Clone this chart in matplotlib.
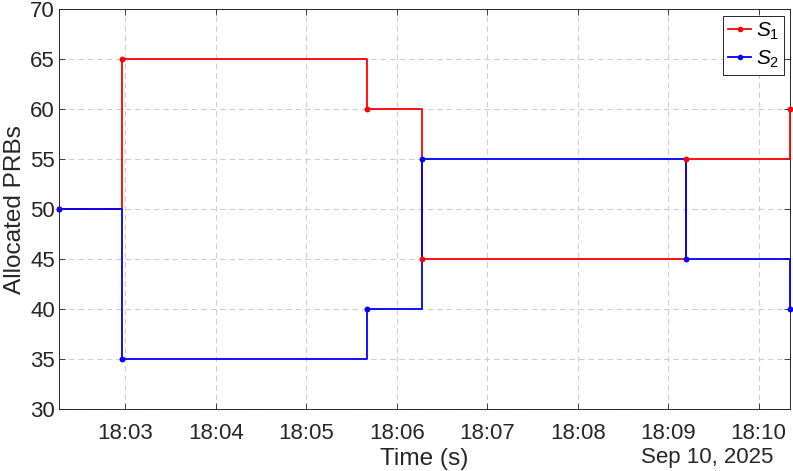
import matplotlib
matplotlib.use("Agg")
import matplotlib.pyplot as plt
import matplotlib.dates as mdates
import pandas as pd

plt.rcParams['font.family'] = ['Liberation Sans', 'DejaVu Sans']
plt.rcParams['mathtext.fontset'] = 'custom'
plt.rcParams['mathtext.it'] = 'Liberation Sans:italic'
plt.rcParams['mathtext.rm'] = 'Liberation Sans'

times = ["2025-09-10 18:02:16", "2025-09-10 18:02:58", "2025-09-10 18:05:40",
         "2025-09-10 18:06:17", "2025-09-10 18:09:12", "2025-09-10 18:10:21"]
s1_prbs = [50, 65, 60, 45, 55, 60]
s2_prbs = [50, 35, 40, 55, 45, 40]
series_labels = [r'$\mathit{S}_{\mathit{1}}$', r'$\mathit{S}_{\mathit{2}}$']
y_ticks = [30, 35, 40, 45, 50, 55, 60, 65, 70]

t = pd.to_datetime(times).to_pydatetime()

fig = plt.figure(figsize=(7.93, 4.71), dpi=100)
ax = fig.add_axes([59/793, 62/471, (790.3-59)/793, (409-9.3)/471])

l1, = ax.plot(t, s1_prbs, color='#ff0000', lw=1.3, drawstyle='steps-post',
              marker='.', markersize=6, zorder=3, label=series_labels[0], clip_on=False)
l2, = ax.plot(t, s2_prbs, color='#0000ff', lw=1.3, drawstyle='steps-post',
              marker='.', markersize=6, zorder=4, label=series_labels[1], clip_on=False)
ax.plot(t, s1_prbs, ls='none', marker='.', markersize=6, color='#ff0000', zorder=5, clip_on=False)
ax.plot(t, s2_prbs, ls='none', marker='.', markersize=6, color='#0000ff', zorder=6, clip_on=False)

ax.set_xlim(t[0], t[-1])
ax.set_ylim(30, 70)
ax.set_yticks(y_ticks)
ax.xaxis.set_major_locator(mdates.MinuteLocator())
ax.xaxis.set_major_formatter(mdates.DateFormatter('%H:%M'))

ax.grid(True, color='#cfcfcf', ls=(0, (5, 3.5)), lw=0.8)
ax.set_axisbelow(True)
ax.tick_params(direction='in', length=4, width=0.6, top=True, right=True,
               labelsize=16, colors='#262626')
ax.tick_params(axis='x', pad=10)
ax.tick_params(axis='y', pad=3)
for sp in ax.spines.values():
    sp.set_color('#262626')
    sp.set_linewidth(0.7)

ax.set_ylabel('Allocated PRBs', fontsize=17.6, color='#262626', labelpad=3)
ax.set_xlabel('Time (s)', fontsize=17.6, color='#262626', labelpad=3)
ax.text(0.977, -0.095, 'Sep 10, 2025', transform=ax.transAxes, ha='right', va='top',
        fontsize=16, color='#262626')

leg = ax.legend(handles=[l1, l2], loc='upper right', fontsize=15, frameon=True,
                fancybox=False, edgecolor='#262626', framealpha=1,
                borderaxespad=0.3, handlelength=1.1, handletextpad=0.2,
                borderpad=0.25, labelspacing=0.3)
leg.get_frame().set_linewidth(0.7)
leg.set_zorder(10)

fig.savefig('out.png', dpi=100)
